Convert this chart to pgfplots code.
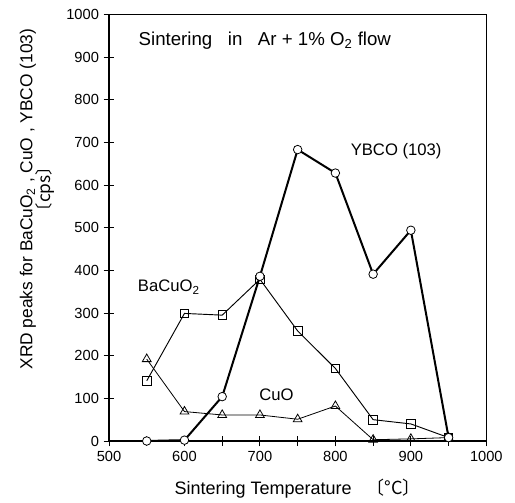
\documentclass[border=0pt]{standalone}
\usepackage{fontspec}
\setmainfont{Liberation Sans}
\newfontfamily\cjk{Noto Sans CJK JP}
\usepackage{pgfplots}
\pgfplotsset{compat=1.18}

\begin{document}
\begin{tikzpicture}
\begin{axis}[
  name=main,
  scale only axis, width=283pt, height=320pt,
  xmin=500, xmax=1000, ymin=0, ymax=1000,
  xtick={500,600,...,1000}, ytick={0,100,...,1000},
  minor xtick={550,650,...,950},
  tick align=center, major tick length=8pt, minor tick length=7pt,
  xtick pos=bottom, ytick pos=left,
  axis line style={black, line width=0.8pt},
  tick style={black, line width=0.7pt},
  ticklabel style={font=\fontsize{11}{13}\selectfont},
  /pgf/number format/assume math mode=true,
  /pgf/number format/set thousands separator={},
  xlabel={Sintering Temperature\ \ \ \cjk{〔}°C\cjk{〕}},
  xlabel style={font=\fontsize{13.5}{15}\selectfont, yshift=-6pt},
  ylabel={XRD peaks for BaCuO\textsubscript{2} , CuO , YBCO (103)\\\hspace*{15pt}\cjk{〔}cps\cjk{〕}},
  ylabel style={font=\fontsize{13}{14}\selectfont, align=center, at={(axis description cs:-0.19,0.567)}, anchor=center},
  clip=false,
]
\addplot[black, line width=0.7pt, mark=square, mark size=3.2pt, mark options={solid, fill=white, line width=0.6pt}]
  coordinates {(550,141) (600,299) (650,295) (700,379) (750,258) (800,170) (850,50) (900,40) (950,8)};
\addplot[black, line width=0.6pt, mark=triangle, mark size=3.8pt, mark options={solid, fill=white, line width=0.6pt}]
  coordinates {(550,192) (600,69) (650,61) (700,61) (750,51) (800,82) (850,3) (900,5) (950,8)};
\addplot[black, line width=1.5pt, mark=*, mark size=3.2pt, mark options={solid, fill=white, line width=0.6pt}]
  coordinates {(550,0) (600,2) (650,104) (700,386) (750,683) (800,628) (850,391) (900,494) (950,8)};
\node[anchor=west, inner sep=0pt, font=\fontsize{14}{15}\selectfont] at (axis description cs:0.078,0.939) {Sintering\ \ \ in\ \ \ Ar + 1\% O\textsubscript{2} flow};
\node[anchor=west, inner sep=0pt, font=\fontsize{12.5}{14}\selectfont] at (axis cs:820,679) {YBCO (103)};
\node[anchor=west, inner sep=0pt, font=\fontsize{12.5}{14}\selectfont] at (axis cs:538,361) {BaCuO\textsubscript{2}};
\node[anchor=west, inner sep=0pt, font=\fontsize{12.5}{14}\selectfont] at (axis cs:699,108) {CuO};
\end{axis}
\path (main.south west) ++(-81.75pt,-42.75pt) coordinate (bbA);
\path (main.south west) ++(304.5pt,330.75pt) coordinate (bbB);
\path[use as bounding box] (bbA) rectangle (bbB);
\end{tikzpicture}
\end{document}
